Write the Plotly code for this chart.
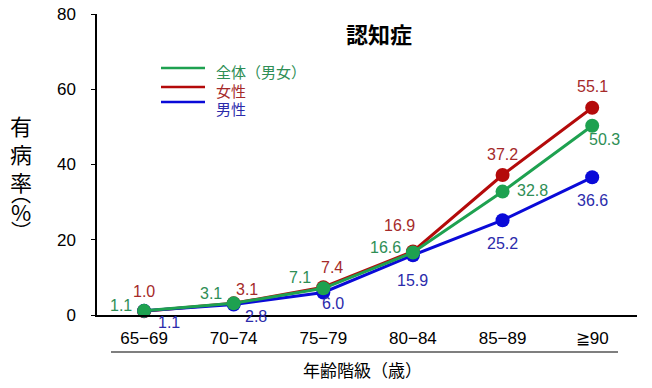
import plotly.graph_objects as go

categories = ["65−69", "70−74", "75−79", "80−84", "85−89", "≧90"]
total = [1.1, 3.1, 7.1, 16.6, 32.8, 50.3]
female = [1.0, 3.1, 7.4, 16.9, 37.2, 55.1]
male = [1.1, 2.8, 6.0, 15.9, 25.2, 36.6]
y_ticks = [0, 20, 40, 60, 80]

GREEN = "#1ea150"
RED = "#b40a0a"
BLUE = "#0a0ad8"
GREEN_T = "#2e8e55"
RED_T = "#a52a2a"
BLUE_T = "#2b2bab"
NUMFONT = "Liberation Sans, Arial, sans-serif"
JPFONT = "Noto Sans CJK JP, sans-serif"

W, H = 652, 388
ml, mr, mt, mb = 97, 15, 14, 73
pw, ph = W - ml - mr, H - mt - mb


def px(xp):
    return (xp - ml) / pw


def py(yp):
    return (H - mb - yp) / ph


x = list(range(len(categories)))

fig = go.Figure()
for vals, col in [(female, RED), (male, BLUE), (total, GREEN)]:
    fig.add_trace(go.Scatter(x=x, y=vals, mode="lines+markers",
                             line=dict(color=col, width=3),
                             marker=dict(color=col, size=14),
                             showlegend=False, hoverinfo="skip", cliponaxis=False))

# label offsets (pixels) per series
total_off = [(-23, 5), (-23, 10), (-23, 11), (-27, 5), (30, 1), (12, -14)]
female_off = [(0, 20), (13, 14), (9, 20), (-13, 26), (0, 21), (0, 21)]
male_off = [(25, -12), (22, -12), (10, -11), (0, -25), (0, -23), (0, -23)]

anns = []
for vals, offs, col in [(total, total_off, GREEN_T), (female, female_off, RED_T), (male, male_off, BLUE_T)]:
    for i, v in enumerate(vals):
        dx, dy = offs[i]
        anns.append(dict(x=i, y=v, xref="x", yref="y", text=f"{v:.1f}", showarrow=False,
                         xshift=dx, yshift=dy, font=dict(size=16, color=col, family=NUMFONT)))

# chart title
anns.append(dict(x=px(379), y=py(33), xref="paper", yref="paper", text="<b>認知症</b>", showarrow=False,
                 xanchor="center", yanchor="middle",
                 font=dict(size=22, color="black", family=JPFONT)))

# legend
legend_items = [("全体（男女）", GREEN, GREEN_T), ("女性", RED, RED_T), ("男性", BLUE, BLUE_T)]
line_y = [68, 87, 102]
text_y = [71, 90, 109]
shapes = []
for (name, lc, tc), ly, ty in zip(legend_items, line_y, text_y):
    shapes.append(dict(type="line", xref="paper", yref="paper", x0=px(161), x1=px(205),
                       y0=py(ly), y1=py(ly), line=dict(color=lc, width=2.5)))
    anns.append(dict(x=px(214), y=py(ty), xref="paper", yref="paper", text=name, showarrow=False,
                     xanchor="left", yanchor="middle", font=dict(size=15, color=tc, family=JPFONT)))

# underline below category labels
shapes.append(dict(type="line", xref="paper", yref="paper", x0=px(111), x1=px(618),
                   y0=py(352), y1=py(352), line=dict(color="black", width=1.2)))

# x-axis title
anns.append(dict(x=px(362), y=py(369), xref="paper", yref="paper", text="年齢階級（歳）", showarrow=False,
                 xanchor="center", yanchor="middle",
                 font=dict(size=17, color="black", family=JPFONT)))

# y-axis title (stacked characters, vertical-form parentheses)
ytitle = [("有", 125, 22), ("病", 153, 22), ("率", 181, 22), ("︵", 194, 20), ("%", 211, 22), ("︶", 231, 20)]
for ch, yy, fs in ytitle:
    anns.append(dict(x=px(21), y=py(yy), xref="paper", yref="paper", text=ch, showarrow=False,
                     xanchor="center", yanchor="middle",
                     font=dict(size=fs, color="black", family=JPFONT)))

fig.update_layout(
    width=W, height=H,
    margin=dict(l=ml, r=mr, t=mt, b=mb, autoexpand=False),
    paper_bgcolor="white", plot_bgcolor="white",
    annotations=anns, shapes=shapes,
    xaxis=dict(range=[-0.525, 5.5], tickvals=x, ticktext=categories, showgrid=False, zeroline=False,
               showline=True, linecolor="black", linewidth=1.5, ticks="", automargin=False,
               ticklabelstandoff=7,
               tickfont=dict(size=17, color="black", family=NUMFONT)),
    yaxis=dict(range=[0, 80], tickvals=y_ticks, showgrid=False, zeroline=False,
               showline=True, linecolor="black", linewidth=1.5, ticks="outside", ticklen=4,
               automargin=False, tickcolor="black", ticklabelstandoff=12,
               tickfont=dict(size=17, color="black", family=NUMFONT)),
)

fig.write_html("out.html", config={"displayModeBar": False},
               post_script="document.body.style.margin='0';document.body.style.overflow='hidden';")
